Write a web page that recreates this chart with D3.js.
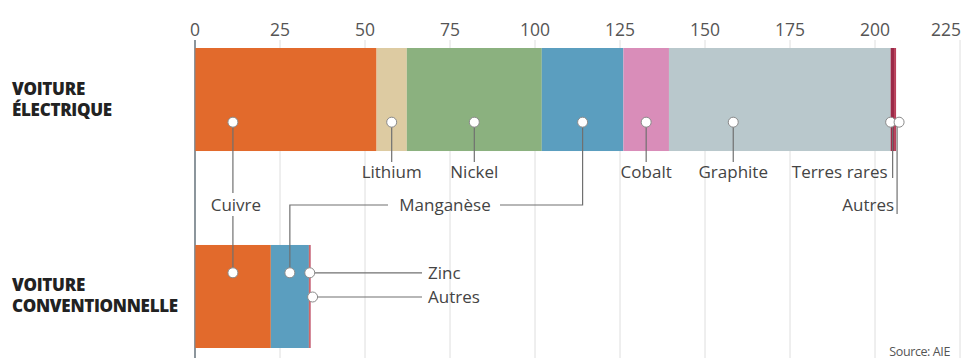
<!DOCTYPE html>
<html><head><meta charset="utf-8">
<script src="https://cdn.jsdelivr.net/npm/d3@7"></script>
<style>
html,body{margin:0;padding:0;background:#fff;}
svg{display:block;font-family:"Open Sans",sans-serif;}
</style></head>
<body><svg id="c" width="962" height="361"></svg>
<script>
// ---- data ----
const categories = ["VOITURE ÉLECTRIQUE", "VOITURE CONVENTIONNELLE"];
const minerals = ["Cuivre","Lithium","Nickel","Manganèse","Cobalt","Graphite","Zinc","Terres rares","Autres"];
const electricValues     = [53.4, 8.9, 39.7, 24.0, 13.4, 65.2, 0,   1.0, 0.6];
const conventionalValues = [22.3, 0,   0,    11.2, 0,    0,    0.25, 0,  0.25];
const tickValues = [0, 25, 50, 75, 100, 125, 150, 175, 200, 225];
const colors = ["#E26A2C","#DDCBA2","#8BB17F","#5B9EBF","#D98DB9","#B9C8CC","#D0453A","#9C2A48","#B8405A"];
const sourceText = "Source: AIE";

const svg = d3.select("#c");
const x = d3.scaleLinear().domain([0, 225]).range([195, 960]);
const y = d3.scaleBand().domain(categories).range([48, 348]).paddingInner(0.477).paddingOuter(0);

// grid
const g = svg.append("g");
g.selectAll("line.grid").data(tickValues).join("line")
  .attr("x1", d => x(d)).attr("x2", d => x(d)).attr("y1", 40).attr("y2", 358)
  .attr("stroke", d => d === 0 ? "#7d8890" : "#dedede").attr("stroke-width", d => d === 0 ? 1.6 : 1);
g.selectAll("text.tick").data(tickValues).join("text")
  .attr("x", (d, i) => i === tickValues.length - 1 ? x(d) + 1 : x(d))
  .attr("y", 36).attr("text-anchor", (d, i) => i === tickValues.length - 1 ? "end" : "middle")
  .attr("font-size", 17.5).attr("fill", "#555").text(d => d);

// stacked bars
const rows = [electricValues, conventionalValues];
rows.forEach((vals, ri) => {
  let acc = 0;
  const segs = vals.map((v, i) => { const s = {x0: acc, x1: acc + v, i}; acc += v; return s; }).filter(s => s.x1 > s.x0);
  svg.append("g").selectAll("rect").data(segs).join("rect")
    .attr("x", s => x(s.x0)).attr("width", s => x(s.x1) - x(s.x0))
    .attr("y", y(categories[ri])).attr("height", y.bandwidth())
    .attr("fill", s => colors[s.i]);
});
// zero line over bar edges
svg.append("line").attr("x1", x(0)).attr("x2", x(0)).attr("y1", 40).attr("y2", 358)
  .attr("stroke", "#7d8890").attr("stroke-width", 1.6).attr("opacity", 0.5);

// row labels
const rowLabelLines = [["VOITURE","ÉLECTRIQUE"],["VOITURE","CONVENTIONNELLE"]];
rowLabelLines.forEach((lines, ri) => {
  const base = ri === 0 ? 95 : 291;
  svg.append("text").attr("x", 12).attr("font-size", 17).attr("font-weight", 800).attr("fill", "#222")
    .attr("letter-spacing", -0.3)
    .selectAll("tspan").data(lines).join("tspan").attr("x", 12).attr("y", (d, k) => base + k * 21).text(d => d);
});

// helpers
function cum(vals, i) { return d3.sum(vals.slice(0, i)); }
function mid(vals, i) { return x(cum(vals, i) + vals[i] / 2); }
function end(vals, i) { return x(cum(vals, i) + vals[i]); }

const yE = y(categories[0]), yC = y(categories[1]), bw = y.bandwidth();
const dotYE = yE + bw * 0.72, dotYC = yC + bw * 0.27, dotYC2 = yC + bw * 0.505;
const labelY1 = 178, labelY2 = 211;

const lines = svg.append("g").attr("stroke", "#707070").attr("stroke-width", 1.2).attr("fill", "none");
const labels = svg.append("g").attr("font-size", 17).attr("fill", "#444");
const dots = [];
function pl(pts) { lines.append("path").attr("d", d3.line()(pts)); }
function lab(t, xx, yy, anchor) { labels.append("text").attr("x", xx).attr("y", yy).attr("text-anchor", anchor || "middle").text(t); }

// Cuivre: shared vertical
const xCu = mid(conventionalValues, 0);
pl([[xCu, dotYE], [xCu, 193]]); pl([[xCu, 216], [xCu, dotYC]]);
lab("Cuivre", xCu + 3, labelY2);
dots.push([xCu, dotYE], [xCu, dotYC]);

// Lithium, Nickel, Cobalt
[1, 2, 4].forEach(i => {
  const xx = mid(electricValues, i);
  pl([[xx, dotYE], [xx, 162]]);
  lab(minerals[i], xx, labelY1);
  dots.push([xx, dotYE]);
});
// Graphite (label placed left of centre)
const xGr = x(cum(electricValues, 5) + electricValues[5] * 0.29);
pl([[xGr, dotYE], [xGr, 162]]); lab("Graphite", xGr, labelY1); dots.push([xGr, dotYE]);

// Manganèse
const xMnE = mid(electricValues, 3), xMnC = mid(conventionalValues, 3);
pl([[xMnE, dotYE], [xMnE, 205], [500, 205]]);
pl([[388, 205], [xMnC, 205], [xMnC, dotYC]]);
lab("Manganèse", 445, labelY2);
dots.push([xMnE, dotYE], [xMnC, dotYC]);

// Terres rares & Autres (electric)
const xTR = x(cum(electricValues, 7));
const xAu = end(electricValues, 8);
pl([[xTR + 2, dotYE], [xTR + 2, 178]]);
pl([[xAu + 1, dotYE], [xAu + 1, 214]]);
lab("Terres rares", xTR - 3, labelY1, "end");
lab("Autres", xAu - 2, labelY2, "end");
dots.push([xTR, dotYE], [xAu + 3, dotYE]);

// Conventional: Zinc & Autres
const xZn = end(conventionalValues, 6), xAuC = end(conventionalValues, 8);
pl([[xZn, dotYC], [422, dotYC]]);
pl([[xAuC + 2, dotYC2], [422, dotYC2]]);
lab("Zinc", 428, dotYC + 6, "start");
lab("Autres", 428, dotYC2 + 6, "start");
dots.push([xZn, dotYC], [xAuC + 2, dotYC2]);

svg.append("g").selectAll("circle").data(dots).join("circle")
  .attr("cx", d => d[0]).attr("cy", d => d[1]).attr("r", 5)
  .attr("fill", "#fff").attr("stroke", "#8a8a8a").attr("stroke-width", 1);

// source
svg.append("text").attr("x", 950).attr("y", 356).attr("text-anchor", "end")
  .attr("font-size", 12.5).attr("fill", "#555").attr("letter-spacing", -0.4).text(sourceText);
</script></body></html>
